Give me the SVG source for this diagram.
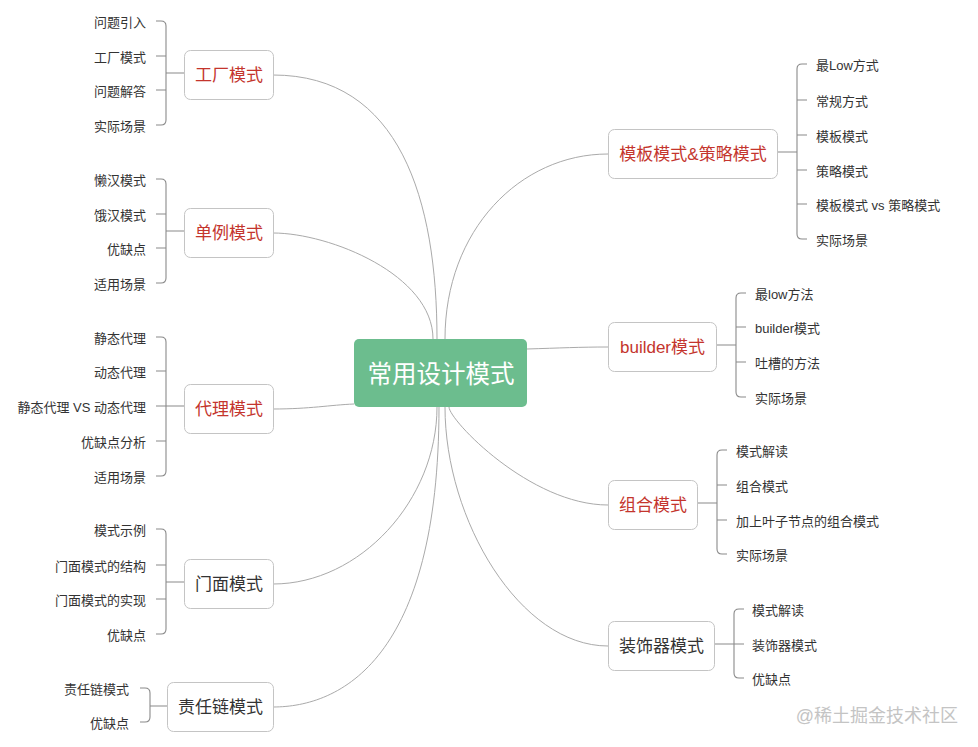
<svg xmlns="http://www.w3.org/2000/svg" width="978" height="747" viewBox="0 0 978 747">
<style>
text{font-family:"Liberation Sans","Noto Sans CJK SC",sans-serif;dominant-baseline:central}
.leaf{font-size:13px;fill:#333}
.lr{text-anchor:end}
.box{fill:#fff;stroke:#c4c4c4;stroke-width:1}
.t1{font-size:17px;text-anchor:middle}
.red{fill:#c4352d}
.dk{fill:#333}
.con{fill:none;stroke:#aaa;stroke-width:1}
.br{fill:none;stroke:#8a8a8a;stroke-width:1.1}
</style>
<rect width="978" height="747" fill="#fff"/>
<g id="connectors">
<path class="con" d="M273,75 C400,75 437,200 437,339"/>
<path class="con" d="M273,233 C330,233 433,275 433,339"/>
<path class="con" d="M273,409 C310,409 330,405 354,404"/>
<path class="con" d="M273,584 C360,584 437,500 437,407"/>
<path class="con" d="M273,707 C340,707 439,660 439,407"/>
<path class="con" d="M608,154 C520,154 445,230 445,339"/>
<path class="con" d="M527,349 C560,348 580,347 608,347"/>
<path class="con" d="M608,505 C530,505 449,420 449,407"/>
<path class="con" d="M608,646 C520,646 445,520 445,407"/>
</g>
<g id="brackets">
<path class="br" d="M156,21 H161 Q166,21 166,26 V120 Q166,125 161,125 H156 M156,56 H166 M156,90 H166 M166,73 H184"/>
<path class="br" d="M156,179 H161 Q166,179 166,184 V278 Q166,283 161,283 H156 M156,214 H166 M156,248 H166 M166,231 H184"/>
<path class="br" d="M156,337 H161 Q166,337 166,342 V471 Q166,476 161,476 H156 M156,371 H166 M156,406 H184 M156,441 H166"/>
<path class="br" d="M156,529 H161 Q166,529 166,534 V629 Q166,634 161,634 H156 M156,565 H166 M156,599 H166 M166,582 H184"/>
<path class="br" d="M140,688 H145 Q150,688 150,693 V717 Q150,722 145,722 H140 M150,706 H167"/>
<path class="br" d="M807,64 H802 Q797,64 797,69 V234 Q797,239 802,239 H807 M797,100 H807 M797,135 H807 M797,170 H807 M797,204 H807 M777,152 H797"/>
<path class="br" d="M746,293 H741 Q736,293 736,298 V392 Q736,397 741,397 H746 M736,327 H746 M736,362 H746 M716,345 H736"/>
<path class="br" d="M727,450 H722 Q717,450 717,455 V549 Q717,554 722,554 H727 M717,485 H727 M717,520 H727 M697,503 H717"/>
<path class="br" d="M744,609 H739 Q734,609 734,614 V673 Q734,678 739,678 H744 M714,644 H744"/>
</g>
<g id="root">
<rect x="354" y="339" width="173" height="68" rx="5" fill="#6cbd8e"/>
<text x="441" y="374" font-size="24.5" text-anchor="middle" fill="#fff">常用设计模式</text>
</g>
<g id="n-factory">
<rect class="box" x="184.5" y="50.5" width="89" height="49" rx="6"/>
<text class="t1 red" x="229" y="75">工厂模式</text>
<text class="leaf lr" x="146" y="22.5">问题引入</text>
<text class="leaf lr" x="146" y="57.5">工厂模式</text>
<text class="leaf lr" x="146" y="91.5">问题解答</text>
<text class="leaf lr" x="146" y="126.5">实际场景</text>
</g>
<g id="n-singleton">
<rect class="box" x="184.5" y="208.5" width="89" height="49" rx="6"/>
<text class="t1 red" x="229" y="233">单例模式</text>
<text class="leaf lr" x="146" y="180.5">懒汉模式</text>
<text class="leaf lr" x="146" y="215.5">饿汉模式</text>
<text class="leaf lr" x="146" y="249.5">优缺点</text>
<text class="leaf lr" x="146" y="284.5">适用场景</text>
</g>
<g id="n-proxy">
<rect class="box" x="184.5" y="384.5" width="89" height="49" rx="6"/>
<text class="t1 red" x="229" y="409">代理模式</text>
<text class="leaf lr" x="146" y="338.5">静态代理</text>
<text class="leaf lr" x="146" y="372.5">动态代理</text>
<text class="leaf lr" x="146" y="407.5">静态代理 VS 动态代理</text>
<text class="leaf lr" x="146" y="442.5">优缺点分析</text>
<text class="leaf lr" x="146" y="477.5">适用场景</text>
</g>
<g id="n-facade">
<rect class="box" x="184.5" y="559.5" width="89" height="49" rx="6"/>
<text class="t1 dk" x="229" y="584">门面模式</text>
<text class="leaf lr" x="146" y="530.5">模式示例</text>
<text class="leaf lr" x="146" y="566.5">门面模式的结构</text>
<text class="leaf lr" x="146" y="600.5">门面模式的实现</text>
<text class="leaf lr" x="146" y="635.5">优缺点</text>
</g>
<g id="n-chain">
<rect class="box" x="167.5" y="682.5" width="106" height="49" rx="6"/>
<text class="t1 dk" x="220.5" y="707">责任链模式</text>
<text class="leaf lr" x="129" y="689.5">责任链模式</text>
<text class="leaf lr" x="129" y="723.5">优缺点</text>
</g>
<g id="n-template">
<rect class="box" x="608.5" y="129.5" width="169" height="49" rx="6"/>
<text class="t1 red" x="693" y="154">模板模式&amp;策略模式</text>
<text class="leaf" x="816" y="65.5">最Low方式</text>
<text class="leaf" x="816" y="101.5">常规方式</text>
<text class="leaf" x="816" y="136.5">模板模式</text>
<text class="leaf" x="816" y="171.5">策略模式</text>
<text class="leaf" x="816" y="205.5">模板模式 vs 策略模式</text>
<text class="leaf" x="816" y="240.5">实际场景</text>
</g>
<g id="n-builder">
<rect class="box" x="608.5" y="322.5" width="108" height="49" rx="6"/>
<text class="t1 red" x="662.5" y="347">builder模式</text>
<text class="leaf" x="755" y="294.5">最low方法</text>
<text class="leaf" x="755" y="328.5">builder模式</text>
<text class="leaf" x="755" y="363.5">吐槽的方法</text>
<text class="leaf" x="755" y="398.5">实际场景</text>
</g>
<g id="n-composite">
<rect class="box" x="608.5" y="480.5" width="89" height="49" rx="6"/>
<text class="t1 red" x="653" y="505">组合模式</text>
<text class="leaf" x="736" y="451.5">模式解读</text>
<text class="leaf" x="736" y="486.5">组合模式</text>
<text class="leaf" x="736" y="521.5">加上叶子节点的组合模式</text>
<text class="leaf" x="736" y="555.5">实际场景</text>
</g>
<g id="n-decorator">
<rect class="box" x="608.5" y="621.5" width="106" height="49" rx="6"/>
<text class="t1 dk" x="661.5" y="646">装饰器模式</text>
<text class="leaf" x="752" y="610.5">模式解读</text>
<text class="leaf" x="752" y="645.5">装饰器模式</text>
<text class="leaf" x="752" y="679.5">优缺点</text>
</g>
<text x="958" y="716" font-size="18" text-anchor="end" fill="#c4c4c4">@稀土掘金技术社区</text>
</svg>
